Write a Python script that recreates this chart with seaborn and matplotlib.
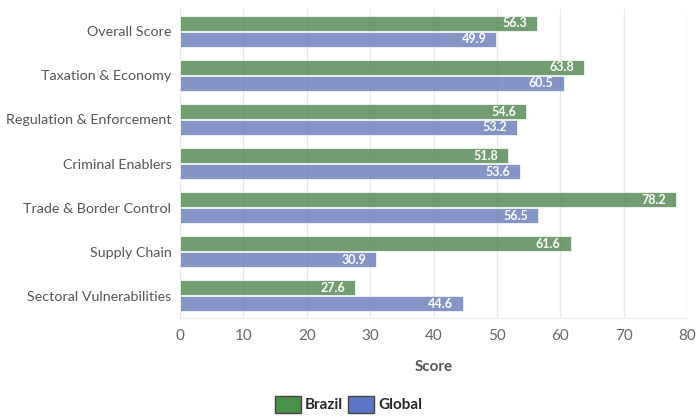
import pandas as pd
import seaborn as sns
import matplotlib.pyplot as plt
from matplotlib.patches import Patch

categories = ['Overall Score', 'Taxation & Economy', 'Regulation & Enforcement',
              'Criminal Enablers', 'Trade & Border Control', 'Supply Chain',
              'Sectoral Vulnerabilities']
brazil = [56.3, 63.8, 54.6, 51.8, 78.2, 61.6, 27.6]
global_scores = [49.9, 60.5, 53.2, 53.6, 56.5, 30.9, 44.6]
series = ['Brazil', 'Global']
colors = ['#4a9148', '#5b76c6']

df = pd.DataFrame({
    'category': categories * 2,
    'score': brazil + global_scores,
    'group': ['Brazil'] * len(categories) + ['Global'] * len(categories),
})

sns.set_style('white')
plt.rcParams['font.family'] = ['Lato', 'DejaVu Sans']

fig = plt.figure(figsize=(6.97, 4.2), dpi=100)
ax = fig.add_axes([0.258, 0.243, 0.728, 0.735])

sns.barplot(data=df, x='score', y='category', hue='group', order=categories,
            hue_order=series, palette=colors, width=0.72, gap=0.06,
            alpha=0.82, ax=ax, legend=False, zorder=3)

for patch in ax.patches:
    patch.set_edgecolor('white')
    patch.set_linewidth(0.6)

# value labels at the end of each bar
for cont in ax.containers:
    ax.bar_label(cont, fmt='%.1f', padding=-25, color='white',
                 fontsize=9, fontweight='bold')

ax.set_xlim(0, 80)
ax.set_xticks(range(0, 81, 10))
ax.grid(axis='x', color='#e8e8e8', linewidth=1, zorder=0)
ax.set_axisbelow(True)
for s in ['top', 'right', 'left']:
    ax.spines[s].set_visible(False)
ax.spines['bottom'].set_color('#e8e8e8')
ax.tick_params(axis='x', length=4, color='#e8e8e8', labelsize=11,
               labelcolor='#666666', pad=4)
ax.tick_params(axis='y', length=4, color='#e8e8e8', labelsize=10.3,
               labelcolor='#555555', pad=2)
ax.set_ylabel('')
ax.set_xlabel('Score', fontsize=11, fontweight='bold', color='#555555',
              labelpad=12)

handles = [Patch(facecolor=c, edgecolor='#444444', label=s)
           for s, c in zip(series, colors)]
fig.legend(handles=handles, loc='lower center', bbox_to_anchor=(0.5, -0.015),
           ncol=2, frameon=False, handlelength=1.7, handleheight=1.3,
           handletextpad=0.3, columnspacing=0.3,
           prop={'weight': 'bold', 'size': 11})

fig.savefig('out.png', dpi=100, facecolor='white')
